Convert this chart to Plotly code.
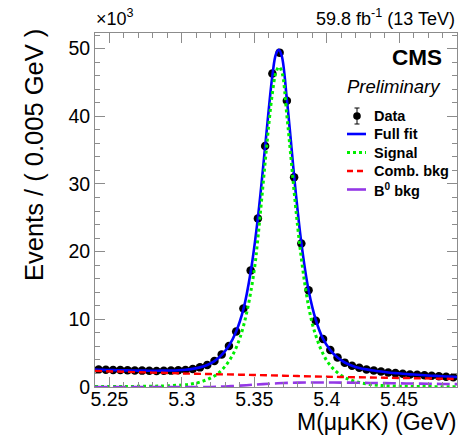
import plotly.graph_objects as go

# ---------------- data, values in units of 10^3 events ----------------
bin_centers = [5.2425, 5.2475, 5.2525, 5.2575, 5.2625, 5.2675, 5.2725, 5.2775, 5.2825, 5.2875,
               5.2925, 5.2975, 5.3025, 5.3075, 5.3125, 5.3175, 5.3225, 5.3275, 5.3325, 5.3375,
               5.3425, 5.3475, 5.3525, 5.3575, 5.3625, 5.3675, 5.3725, 5.3775, 5.3825, 5.3875,
               5.3925, 5.3975, 5.4025, 5.4075, 5.4125, 5.4175, 5.4225, 5.4275, 5.4325, 5.4375,
               5.4425, 5.4475, 5.4525, 5.4575, 5.4625, 5.4675, 5.4725, 5.4775, 5.4825, 5.4875]
data_counts = [2.60, 2.55, 2.52, 2.50, 2.46, 2.45, 2.42, 2.40, 2.36, 2.40,
               2.42, 2.46, 2.52, 2.65, 2.90, 3.25, 3.85, 4.80, 6.05, 8.20,
               11.6, 17.2, 24.9, 35.6, 46.3, 49.4, 42.3, 31.0, 21.2, 14.3,
               9.8, 7.1, 5.45, 4.35, 3.60, 3.15, 2.85, 2.60, 2.45, 2.30,
               2.15, 2.05, 1.95, 1.86, 1.80, 1.72, 1.66, 1.60, 1.52, 1.45]

full_x = [5.2400, 5.2425, 5.2475, 5.2525, 5.2575, 5.2625, 5.2675, 5.2725, 5.2775, 5.2825,
          5.2875, 5.2925, 5.2975, 5.3025, 5.3075, 5.3125, 5.3175, 5.3225, 5.3275, 5.3325,
          5.3375, 5.3425, 5.3475, 5.3525, 5.3575, 5.3600, 5.3625, 5.3650, 5.3670, 5.3690,
          5.3725, 5.3750, 5.3775, 5.3825, 5.3875, 5.3925, 5.3975, 5.4025, 5.4075, 5.4125,
          5.4175, 5.4225, 5.4275, 5.4325, 5.4375, 5.4425, 5.4475, 5.4525, 5.4575, 5.4625,
          5.4675, 5.4725, 5.4775, 5.4825, 5.4875, 5.4900]
full_y = [2.56, 2.55, 2.52, 2.50, 2.47, 2.45, 2.43, 2.42, 2.41, 2.41,
          2.42, 2.44, 2.48, 2.55, 2.68, 2.90, 3.25, 3.82, 4.75, 6.10,
          8.20, 11.5, 17.0, 25.0, 35.5, 41.0, 46.0, 49.2, 49.8, 48.9,
          42.5, 37.0, 31.2, 21.3, 14.3, 9.9, 7.1, 5.45, 4.35, 3.62,
          3.15, 2.82, 2.60, 2.43, 2.28, 2.15, 2.05, 1.95, 1.87, 1.80,
          1.73, 1.67, 1.61, 1.55, 1.50, 1.48]

signal_x = [5.240, 5.260, 5.280, 5.290, 5.300, 5.305, 5.310, 5.315, 5.320, 5.325,
            5.330, 5.335, 5.340, 5.345, 5.350, 5.3525, 5.355, 5.3575, 5.360, 5.3625,
            5.365, 5.367, 5.369, 5.3725, 5.375, 5.3775, 5.380, 5.3825, 5.385, 5.3875,
            5.390, 5.3925, 5.395, 5.3975, 5.400, 5.4025, 5.405, 5.410, 5.415, 5.420,
            5.425, 5.430, 5.435, 5.440, 5.450, 5.460, 5.470, 5.490]
signal_y = [0.06, 0.08, 0.12, 0.18, 0.30, 0.40, 0.58, 0.90, 1.35, 2.0,
            3.1, 4.7, 7.2, 11.2, 17.3, 22.0, 27.5, 33.2, 38.7, 43.4,
            46.5, 47.3, 46.6, 40.1, 34.6, 28.9, 23.6, 19.0, 15.1, 11.9,
            9.4, 7.6, 6.1, 4.9, 3.9, 3.2, 2.6, 1.7, 1.15, 0.8,
            0.55, 0.38, 0.27, 0.20, 0.12, 0.08, 0.06, 0.04]

comb_x = [5.24, 5.26, 5.28, 5.30, 5.32, 5.34, 5.36, 5.38, 5.40, 5.42, 5.44, 5.46, 5.48, 5.49]
comb_y = [2.38, 2.25, 2.13, 2.01, 1.91, 1.82, 1.72, 1.62, 1.52, 1.44, 1.37, 1.30, 1.22, 1.18]

b0_x = [5.24, 5.28, 5.32, 5.33, 5.34, 5.35, 5.36, 5.37, 5.38, 5.39, 5.40, 5.41, 5.42,
        5.43, 5.44, 5.45, 5.46, 5.47, 5.48, 5.49]
b0_y = [0.0, 0.0, 0.0, 0.08, 0.20, 0.35, 0.48, 0.58, 0.64, 0.66, 0.66, 0.65, 0.63,
        0.60, 0.57, 0.54, 0.51, 0.48, 0.45, 0.42]

x_tick_vals = [5.25, 5.30, 5.35, 5.40, 5.45]
x_tick_text = ["5.25", "5.3", "5.35", "5.4", "5.45"]
y_tick_vals = [0, 10, 20, 30, 40, 50]
y_tick_text = ["0", "10", "20", "30", "40", "50"]

legend_labels = ["Data", "Full fit", "Signal", "Comb. bkg", "B<sup>0</sup> bkg"]

# ---------------- styles ----------------
FONT = "Liberation Sans, Arial, Helvetica, sans-serif"
BLUE = "#0000ff"
GREEN = "#00ee00"
RED = "#ff0000"
PURPLE = "#9438e6"
AXC = "#8c8c8c"

W, H = 462, 437
L, R, T, B = 95, 5, 33, 50
pw, ph = W - L - R, H - T - B


def px_x(p):
    return (p - L) / pw


def px_y(p):
    return (H - B - p) / ph


fig = go.Figure()

fig.add_trace(go.Scatter(x=bin_centers, y=data_counts, mode="markers",
                         marker=dict(color="black", size=8.5, line=dict(width=0)),
                         showlegend=False, hoverinfo="x+y"))
fig.add_trace(go.Scatter(x=full_x, y=full_y, mode="lines", line=dict(color=BLUE, width=2.6, shape="spline"),
                         showlegend=False))
fig.add_trace(go.Scatter(x=signal_x, y=signal_y, mode="lines",
                         line=dict(color=GREEN, width=3, dash="3px,3px", shape="spline"), showlegend=False))
fig.add_trace(go.Scatter(x=comb_x, y=comb_y, mode="lines",
                         line=dict(color=RED, width=2.4, dash="7px,4px", shape="spline"), showlegend=False))
fig.add_trace(go.Scatter(x=b0_x, y=b0_y, mode="lines",
                         line=dict(color=PURPLE, width=2.6, dash="13px,5px", shape="spline"), showlegend=False))

axis_common = dict(showline=True, linecolor=AXC, linewidth=1, mirror="ticks", ticks="inside",
                   tickcolor=AXC, tickwidth=1, ticklen=10, showgrid=False, zeroline=False,
                   tickfont=dict(family=FONT, size=19.5, color="black"))

fig.update_xaxes(range=[5.24, 5.49], tickvals=x_tick_vals, ticktext=x_tick_text, ticklabelstandoff=-5,
                 minor=dict(dtick=0.01, tick0=5.24, ticks="inside", ticklen=5, tickcolor=AXC, showgrid=False),
                 **axis_common)
fig.update_yaxes(range=[0, 52.3], tickvals=y_tick_vals, ticktext=y_tick_text,
                 minor=dict(dtick=2, tick0=0, ticks="inside", ticklen=5, tickcolor=AXC, showgrid=False),
                 **axis_common)

ann = []
ann.append(dict(text="×10<sup>3</sup>", x=px_x(94), y=px_y(18), xanchor="left", yanchor="middle",
                font=dict(family=FONT, size=18, color="black")))
ann.append(dict(text="59.8 fb<sup>-1</sup> (13 TeV)", x=px_x(457), y=px_y(18), xanchor="right",
                yanchor="middle", font=dict(family=FONT, size=18, color="black")))
ann.append(dict(text="<b>CMS</b>", x=px_x(444), y=px_y(57), xanchor="right", yanchor="middle",
                font=dict(family=FONT, size=22.5, color="black")))
ann.append(dict(text="<i>Preliminary</i>", x=px_x(443), y=px_y(86), xanchor="right", yanchor="middle",
                font=dict(family=FONT, size=18.5, color="black")))
ann.append(dict(text="M(μμKK) (GeV)", x=px_x(458), y=px_y(422), xanchor="right", yanchor="middle",
                font=dict(family=FONT, size=23, color="black")))
ann.append(dict(text="Events / ( 0.005 GeV )", x=px_x(34), y=px_y(27), xanchor="center", yanchor="top",
                textangle=-90, font=dict(family=FONT, size=25.5, color="black")))

rows = [116, 134, 152.5, 171, 189.5]
for lab, ry in zip(legend_labels, rows):
    ann.append(dict(text="<b>" + lab + "</b>", x=px_x(372), y=px_y(ry), xanchor="left", yanchor="middle",
                    font=dict(family=FONT, size=14.5, color="black")))
for a in ann:
    a.update(xref="paper", yref="paper", showarrow=False)

shapes = []
# Data legend symbol: marker + error bar
mx, my = 357, rows[0]
shapes.append(dict(type="line", x0=px_x(mx), x1=px_x(mx), y0=px_y(my - 8), y1=px_y(my + 8),
                   line=dict(color="black", width=1)))
for cy in (my - 8, my + 8):
    shapes.append(dict(type="line", x0=px_x(mx - 2.5), x1=px_x(mx + 2.5), y0=px_y(cy), y1=px_y(cy),
                       line=dict(color="black", width=1)))
shapes.append(dict(type="circle", x0=px_x(mx - 3.8), x1=px_x(mx + 3.8), y0=px_y(my + 3.8), y1=px_y(my - 3.8),
                   fillcolor="black", line=dict(color="black", width=0)))
leg_lines = [(BLUE, 2.6, "solid"), (GREEN, 3, "3px,3px"), (RED, 2.4, "6px,4px"), (PURPLE, 2.6, "solid")]
for (c, w, d), ry in zip(leg_lines, rows[1:]):
    shapes.append(dict(type="line", x0=px_x(347), x1=px_x(366), y0=px_y(ry), y1=px_y(ry),
                       line=dict(color=c, width=w, dash=d)))
for s in shapes:
    s.update(xref="paper", yref="paper")

fig.update_layout(width=W, height=H, margin=dict(l=L, r=R, t=T, b=B, pad=0),
                  paper_bgcolor="white", plot_bgcolor="white", showlegend=False,
                  annotations=ann, shapes=shapes, font=dict(family=FONT, color="black"))

fig.write_html("out.html", config={"displayModeBar": False},
               post_script="document.body.style.margin='0';document.body.style.overflow='hidden';")
